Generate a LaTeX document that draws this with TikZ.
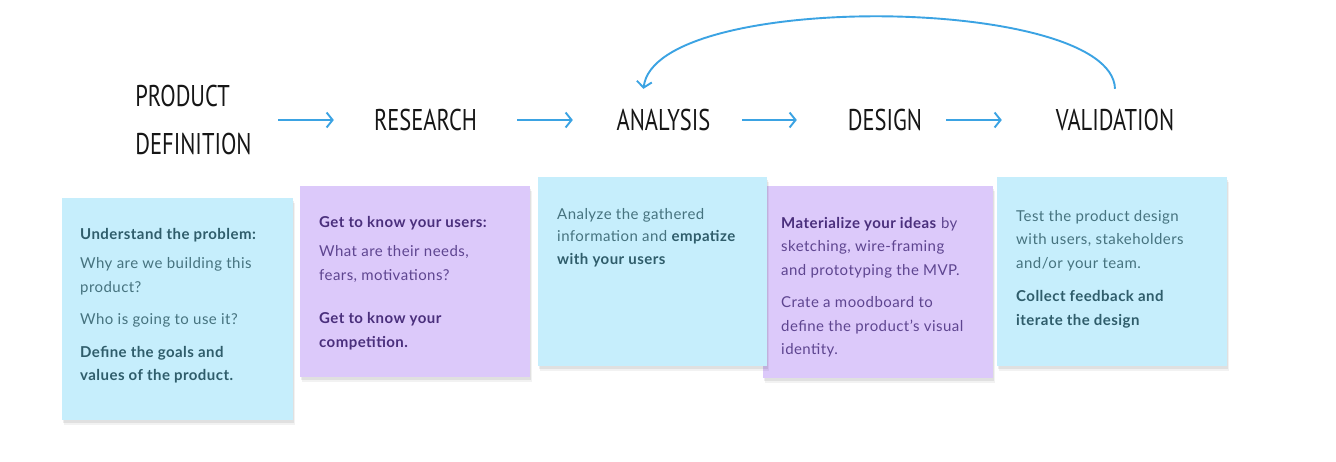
\documentclass[tikz,border=0pt]{standalone}
\usepackage{fontspec}
\setmainfont{Lato}[LetterSpace=3]
\newfontfamily\headfont{PT Sans}
\usetikzlibrary{arrows.meta,shadows}
\definecolor{arrowblue}{HTML}{3BA3E3}
\definecolor{noteblue}{HTML}{C6EEFC}
\definecolor{notepurple}{HTML}{DCC9FA}
\definecolor{tealtext}{HTML}{46737F}
\definecolor{tealdark}{HTML}{2F5D6B}
\definecolor{purpletext}{HTML}{5E4590}
\definecolor{purpledark}{HTML}{4A2F7C}
\definecolor{headink}{HTML}{161616}
\newcommand\hbt[1]{\textcolor{tealdark}{\textbf{#1}}}
\newcommand\hbp[1]{\textcolor{purpledark}{\textbf{#1}}}
\newcommand\hx[1]{\scalebox{0.75}[1]{#1}}
\tikzset{
  head/.style={font=\headfont\fontsize{30}{48}\selectfont, text=headink, inner sep=0pt, minimum height=62pt},
  flow/.style={draw=arrowblue, line width=1.9pt, -{Straight Barb[length=6pt,width=15pt,line width=1.9pt]}},
  notebase/.style={anchor=north west, inner sep=0pt,
    drop shadow={shadow xshift=2pt, shadow yshift=-5pt, opacity=0.05, fill=black},
    drop shadow={shadow xshift=1pt, shadow yshift=-3pt, opacity=0.07, fill=black}},
  bluenote/.style={notebase, fill=noteblue},
  purplenote/.style={notebase, fill=notepurple},
  notetext/.style={anchor=north west, inner sep=0pt, align=left, font=\fontsize{15}{23.5}\selectfont},
  bluetext/.style={notetext, text=tealtext},
  purpletxt/.style={notetext, text=purpletext}
}
\begin{document}
\begin{tikzpicture}[x=1pt,y=-1pt]
\useasboundingbox[fill=white] (0,0) rectangle (1336,462);

% headings
\node[head, minimum width=175pt, align=left] (pd) at (190.5,120) {\hspace*{6pt}\hx{PRODUCT}\\\hspace*{6pt}\hx{DEFINITION}};
\node[head, minimum width=183pt] (res) at (425.5,120) {\hx{RESEARCH}};
\node[head, minimum width=169pt] (ana) at (657.5,120) {\hspace*{12pt}\hx{ANALYSIS}};
\node[head, minimum width=149pt] (des) at (871.5,120) {\hspace*{27pt}\hx{DESIGN}};
\node[head, minimum width=226pt] (val) at (1115,120) {\hx{VALIDATION}};

% flow arrows
\draw[flow] (pd) -- (res);
\draw[flow] (res) -- (ana);
\draw[flow] (ana) -- (des);
\draw[flow] (des) -- (val);
\draw[flow] (val.north) .. controls (1112,-5) and (655,-10) .. ([xshift=-14pt]ana.north);

% notes
\node[bluenote, minimum width=231pt, minimum height=222pt] (n1) at (62,198) {};
\node[purplenote, minimum width=230pt, minimum height=191pt] (n2) at (300,186) {};
\node[purplenote, minimum width=230pt, minimum height=192pt] (n4) at (763,186) {};
\node[bluenote, minimum width=229pt, minimum height=189pt] (n3) at (538,177) {};
\node[bluenote, minimum width=230pt, minimum height=189pt] (n5) at (997,177) {};

\node[bluetext] (t1) at ([xshift=18pt,yshift=-30pt]n1.north west)
 {\hbt{Understand the problem:}\\[6pt]
  Why are we building this\\ product?\\[9pt]
  Who is going to use it?\\[9pt]
  \hbt{Define the goals and}\\ \hbt{values of the product.}};

\node[purpletxt] (t2) at ([xshift=19pt,yshift=-30pt]n2.north west)
 {\hbp{Get to know your users:}\\[6pt]
  What are their needs,\\ fears, motivations?\\[20pt]
  \hbp{Get to know your}\\ \hbp{competition.}};

\node[bluetext] (t3) at ([xshift=19pt,yshift=-31pt]n3.north west)
 {Analyze the gathered\\[-1pt] information and \hbt{empatize}\\[-1pt] \hbt{with your users}};

\node[purpletxt] (t4) at ([xshift=18pt,yshift=-31pt]n4.north west)
 {\hbp{Materialize your ideas} by\\ sketching, wire-framing\\ and prototyping the MVP.\\[9pt]
  Crate a moodboard to\\ define the product’s visual\\ identity.};

\node[bluetext] (t5) at ([xshift=19pt,yshift=-33pt]n5.north west)
 {Test the product design\\ with users, stakeholders\\ and/or your team.\\[10pt]
  \hbt{Collect feedback and}\\ \hbt{iterate the design}};
\end{tikzpicture}
\end{document}
